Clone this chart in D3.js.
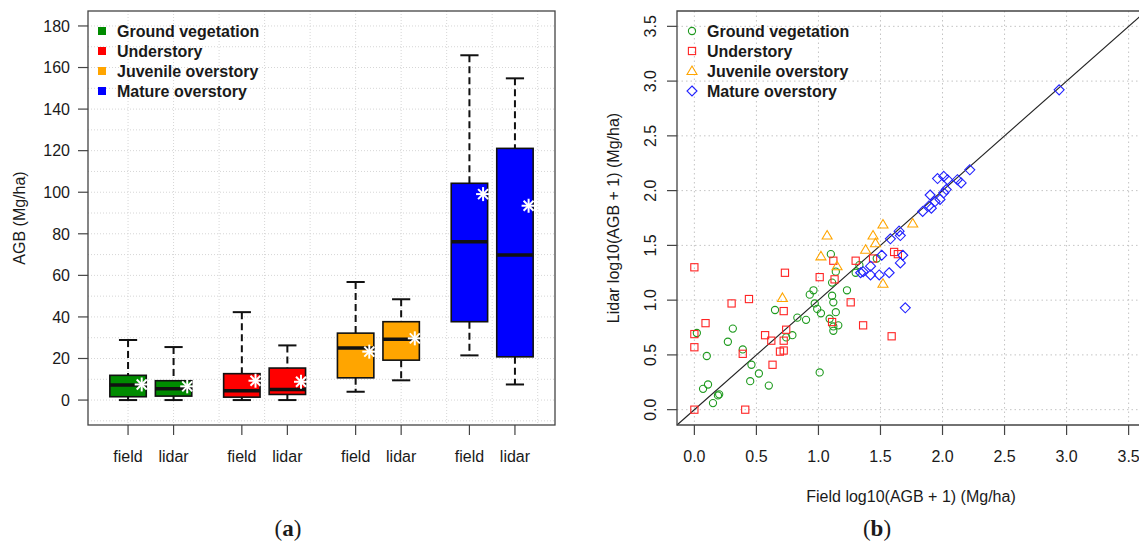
<!DOCTYPE html>
<html><head><meta charset="utf-8">
<script src="https://cdnjs.cloudflare.com/ajax/libs/d3/7.8.5/d3.min.js"></script>
<style>body{margin:0;background:#fff}svg{display:block}text{font-family:"Liberation Sans",Arial,sans-serif;fill:#1a1a1a}</style>
</head><body><svg id="c" width="1139" height="545"></svg>
<script>
// ---------- data ----------
const groups = ["Ground vegetation","Understory","Juvenile overstory","Mature overstory"];
const sources = ["field","lidar"];
const groupColors = ["#008B00","#FF0000","#FFA500","#0000FF"];
// box stats, order: GV field, GV lidar, U field, U lidar, J field, J lidar, M field, M lidar
const whiskerLow  = [0, 0, 0, 0, 4.0, 9.5, 21.5, 7.5];
const q1          = [1.6, 1.9, 1.4, 2.7, 10.7, 19.2, 37.7, 20.8];
const medians     = [7.2, 5.5, 4.5, 5.1, 25.0, 29.2, 76.2, 69.8];
const q3          = [11.9, 9.3, 12.7, 15.4, 32.2, 37.7, 104.3, 121.1];
const whiskerHigh = [28.9, 25.5, 42.3, 26.3, 56.8, 48.5, 165.9, 154.8];
const means       = [7.5, 6.6, 9.3, 8.8, 23.3, 29.7, 99.1, 93.5];
const yTicksA = [0,20,40,60,80,100,120,140,160,180];
const ticksB = [0,0.5,1,1.5,2,2.5,3,3.5];

// scatter: [field, lidar] log10(AGB+1)
const groundVeg = [[0.02,0.70],[0.10,0.49],[0.07,0.19],[0.11,0.23],[0.15,0.06],[0.19,0.13],[0.20,0.14],[0.27,0.62],[0.31,0.74],[0.39,0.55],[0.46,0.41],[0.45,0.26],[0.52,0.33],[0.60,0.22],[0.65,0.91],[0.74,0.66],[0.79,0.68],[0.83,0.84],[0.90,0.82],[0.93,1.05],[0.96,1.09],[0.97,0.97],[0.99,0.92],[1.02,0.88],[1.01,0.34],[1.09,0.83],[1.11,1.04],[1.12,0.98],[1.14,0.89],[1.12,0.72],[1.16,0.77],[1.12,0.76],[1.11,1.16],[1.14,1.26],[1.10,1.42],[1.23,1.09],[1.30,1.25],[1.33,1.32],[1.47,1.38]];
const understory = [[0.00,1.30],[0.00,0.69],[0.00,0.57],[0.00,0.00],[0.09,0.79],[0.30,0.97],[0.44,1.01],[0.39,0.51],[0.41,0.00],[0.63,0.41],[0.57,0.68],[0.62,0.63],[0.73,1.25],[0.72,0.90],[0.74,0.73],[0.72,0.63],[0.72,0.54],[0.69,0.53],[1.01,1.21],[1.12,1.36],[1.13,1.19],[1.11,0.80],[1.26,0.98],[1.30,1.36],[1.36,0.77],[1.44,1.38],[1.61,1.44],[1.64,1.42],[1.59,0.67]];
const juvenile = [[0.71,1.02],[1.02,1.40],[1.07,1.59],[1.15,1.31],[1.38,1.46],[1.44,1.59],[1.46,1.52],[1.52,1.69],[1.76,1.70],[1.52,1.15]];
const mature = [[1.34,1.25],[1.36,1.26],[1.42,1.23],[1.49,1.23],[1.57,1.25],[1.42,1.31],[1.51,1.41],[1.58,1.56],[1.65,1.63],[1.66,1.59],[1.68,1.41],[1.66,1.34],[1.70,0.93],[1.84,1.81],[1.89,1.86],[1.90,1.96],[1.91,1.84],[1.94,1.90],[1.98,1.92],[2.01,1.98],[2.03,2.01],[1.96,2.11],[2.01,2.13],[2.04,2.10],[2.12,2.10],[2.15,2.07],[2.22,2.19],[2.94,2.92]];
const scatterColors = ["#1E9A1E","#FF2424","#FFA500","#2222FF"];
const symbols = ["circle","square","triangle","diamond"];

const svg = d3.select("#c");
const frameCol = "#444";

// ================= panel (a) =================
const xA = d3.scaleLinear().domain([0.12,10.38]).range([88,555]);
const yA = d3.scaleLinear().domain([-12,187.2]).range([425,11]);
const gA = svg.append("g");
// grid
for (let v=1; v<=10; v++) gA.append("line").attr("x1",xA(v)).attr("x2",xA(v)).attr("y1",11).attr("y2",425)
  .attr("stroke","#d6d6d6").attr("stroke-width",1).attr("stroke-dasharray","1,2");
for (let v=-10; v<=180; v+=10) gA.append("line").attr("x1",88).attr("x2",555).attr("y1",yA(v)).attr("y2",yA(v))
  .attr("stroke","#d6d6d6").attr("stroke-width",1).attr("stroke-dasharray","1,2");

const boxes = [];
groups.forEach((g,gi)=>sources.forEach((s,si)=>{
  const i = gi*2+si;
  boxes.push({g:gi, s, pos:1+gi*2.5+si, lo:whiskerLow[i], q1:q1[i], med:medians[i], q3:q3[i], hi:whiskerHigh[i], mean:means[i]});
}));
const unit = xA(1)-xA(0);
const bw = 0.8*unit, cw = 0.4*unit;
boxes.forEach(b=>{
  const cx = xA(b.pos);
  // whiskers
  [[b.hi,b.q3],[b.q1,b.lo]].forEach(([a,c])=>{
    gA.append("line").attr("x1",cx).attr("x2",cx).attr("y1",yA(a)).attr("y2",yA(c))
      .attr("stroke","#111").attr("stroke-width",2).attr("stroke-dasharray","7,4");
  });
  [b.hi,b.lo].forEach(v=>gA.append("line").attr("x1",cx-cw/2).attr("x2",cx+cw/2).attr("y1",yA(v)).attr("y2",yA(v))
    .attr("stroke","#111").attr("stroke-width",2));
  gA.append("rect").attr("x",cx-bw/2).attr("y",yA(b.q3)).attr("width",bw).attr("height",yA(b.q1)-yA(b.q3))
    .attr("fill",groupColors[b.g]).attr("stroke","#111").attr("stroke-width",1.6);
  gA.append("line").attr("x1",cx-bw/2).attr("x2",cx+bw/2).attr("y1",yA(b.med)).attr("y2",yA(b.med))
    .attr("stroke","#111").attr("stroke-width",3.5);
  // mean asterisk
  const mx = xA(b.pos+0.3), my = yA(b.mean), r=7, d=5;
  const st = gA.append("g").attr("stroke","#fff").attr("stroke-width",2);
  st.append("line").attr("x1",mx-r).attr("x2",mx+r).attr("y1",my).attr("y2",my);
  st.append("line").attr("x1",mx).attr("x2",mx).attr("y1",my-r).attr("y2",my+r);
  st.append("line").attr("x1",mx-d).attr("x2",mx+d).attr("y1",my-d).attr("y2",my+d);
  st.append("line").attr("x1",mx-d).attr("x2",mx+d).attr("y1",my+d).attr("y2",my-d);
});
// frame
gA.append("rect").attr("x",88).attr("y",11).attr("width",555-88).attr("height",425-11)
  .attr("fill","none").attr("stroke",frameCol).attr("stroke-width",1.3);
// y axis
yTicksA.forEach(v=>{
  gA.append("line").attr("x1",78).attr("x2",88).attr("y1",yA(v)).attr("y2",yA(v)).attr("stroke",frameCol).attr("stroke-width",1.2);
  gA.append("text").attr("x",70).attr("y",yA(v)).attr("dy","0.36em").attr("text-anchor","end").attr("font-size",16).text(v);
});
// x axis
boxes.forEach(b=>{
  gA.append("line").attr("x1",xA(b.pos)).attr("x2",xA(b.pos)).attr("y1",425).attr("y2",435).attr("stroke",frameCol).attr("stroke-width",1.2);
  gA.append("text").attr("x",xA(b.pos)).attr("y",462).attr("text-anchor","middle").attr("font-size",16).text(b.s);
});
gA.append("text").attr("transform","translate(25,218) rotate(-90)").attr("text-anchor","middle").attr("font-size",16).text("AGB (Mg/ha)");
// legend
groups.forEach((g,i)=>{
  gA.append("rect").attr("x",98).attr("y",31+i*20-4).attr("width",8).attr("height",8).attr("fill",groupColors[i]);
  gA.append("text").attr("x",117).attr("y",31+i*20).attr("dy","0.36em").attr("font-size",16).attr("font-weight","bold").text(g);
});
const la = svg.append("text").attr("x",288).attr("y",536).attr("text-anchor","middle").attr("font-size",23)
  .style("font-family","'Liberation Serif','DejaVu Serif',serif");
la.append("tspan").text("(");la.append("tspan").attr("font-weight","bold").text("a");la.append("tspan").text(")");

// ================= panel (b) =================
const xB = d3.scaleLinear().domain([-0.14,3.64]).range([677,1146]);
const yB = d3.scaleLinear().domain([-0.14,3.64]).range([425,11]);
const gB = svg.append("g");
ticksB.forEach(v=>{
  gB.append("line").attr("x1",xB(v)).attr("x2",xB(v)).attr("y1",11).attr("y2",425)
    .attr("stroke","#c4c4c4").attr("stroke-width",1).attr("stroke-dasharray","1.5,3");
  gB.append("line").attr("x1",677).attr("x2",1146).attr("y1",yB(v)).attr("y2",yB(v))
    .attr("stroke","#c4c4c4").attr("stroke-width",1).attr("stroke-dasharray","1.5,3");
});
// 1:1 line
gB.append("line").attr("x1",xB(-0.14)).attr("y1",yB(-0.14)).attr("x2",xB(3.64)).attr("y2",yB(3.64))
  .attr("stroke","#222").attr("stroke-width",1.1);
function drawSym(g, type, cx, cy, col){
  if(type==="circle") g.append("circle").attr("cx",cx).attr("cy",cy).attr("r",3.6).attr("fill","none").attr("stroke",col).attr("stroke-width",1.1);
  else if(type==="square") g.append("rect").attr("x",cx-3.6).attr("y",cy-3.6).attr("width",7.2).attr("height",7.2).attr("fill","none").attr("stroke",col).attr("stroke-width",1.1);
  else if(type==="triangle") g.append("path").attr("d",`M${cx},${cy-5}L${cx+5},${cy+3.5}L${cx-5},${cy+3.5}Z`).attr("fill","none").attr("stroke",col).attr("stroke-width",1.1);
  else g.append("path").attr("d",`M${cx},${cy-5}L${cx+5},${cy}L${cx},${cy+5}L${cx-5},${cy}Z`).attr("fill","none").attr("stroke",col).attr("stroke-width",1.1);
}
[groundVeg, understory, juvenile, mature].forEach((arr,i)=>{
  arr.forEach(p=>drawSym(gB, symbols[i], xB(p[0]), yB(p[1]), scatterColors[i]));
});
// frame
gB.append("path").attr("d","M1146,11H677V425H1146").attr("fill","none").attr("stroke",frameCol).attr("stroke-width",1.3);
ticksB.forEach(v=>{
  gB.append("line").attr("x1",xB(v)).attr("x2",xB(v)).attr("y1",425).attr("y2",435).attr("stroke",frameCol).attr("stroke-width",1.2);
  gB.append("text").attr("x",xB(v)).attr("y",462).attr("text-anchor","middle").attr("font-size",16).text(d3.format(".1f")(v));
  gB.append("line").attr("x1",667).attr("x2",677).attr("y1",yB(v)).attr("y2",yB(v)).attr("stroke",frameCol).attr("stroke-width",1.2);
  gB.append("text").attr("transform",`translate(656,${yB(v)}) rotate(-90)`).attr("text-anchor","middle").attr("font-size",16).text(d3.format(".1f")(v));
});
gB.append("text").attr("x",911).attr("y",502).attr("text-anchor","middle").attr("font-size",16).text("Field log10(AGB + 1) (Mg/ha)");
gB.append("text").attr("transform","translate(619,218) rotate(-90)").attr("text-anchor","middle").attr("font-size",16).text("Lidar log10(AGB + 1) (Mg/ha)");
groups.forEach((g,i)=>{
  drawSym(gB, symbols[i], 692, 31+i*20, scatterColors[i]);
  gB.append("text").attr("x",707).attr("y",31+i*20).attr("dy","0.36em").attr("font-size",16).attr("font-weight","bold").text(g);
});
const lb = svg.append("text").attr("x",877).attr("y",536).attr("text-anchor","middle").attr("font-size",23)
  .style("font-family","'Liberation Serif','DejaVu Serif',serif");
lb.append("tspan").text("(");lb.append("tspan").attr("font-weight","bold").text("b");lb.append("tspan").text(")");
</script></body></html>
